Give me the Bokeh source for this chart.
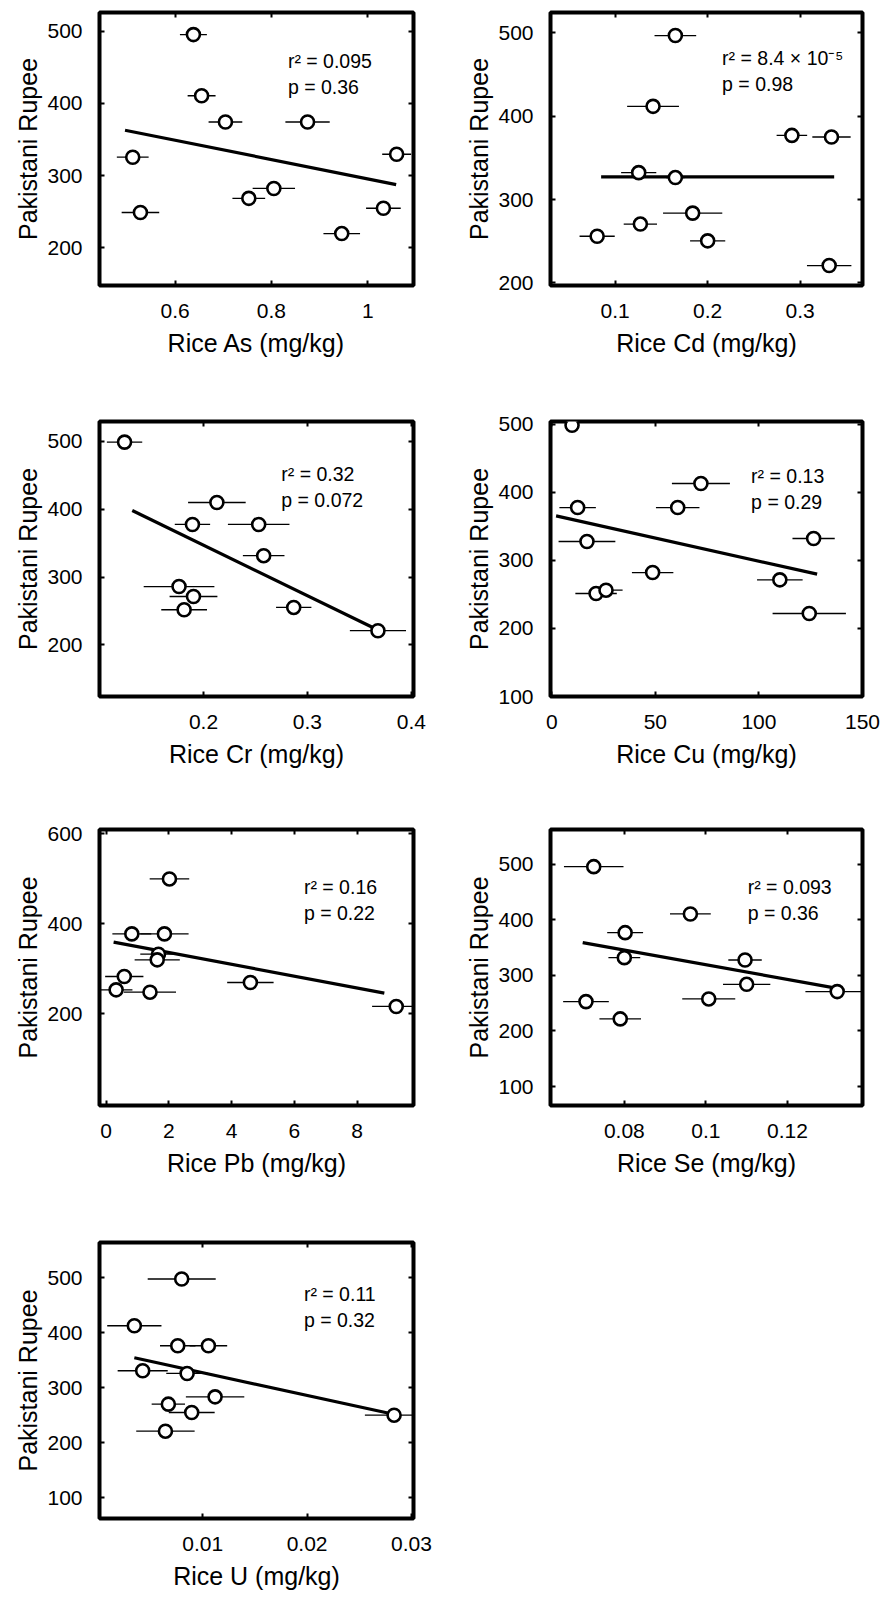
from bokeh.plotting import figure
from bokeh.layouts import column, row
from bokeh.models import (LinearAxis, FixedTicker, CustomJSTickFormatter, Range1d,
                          Label, ColumnDataSource, Spacer)
from bokeh.embed import file_html
from bokeh.resources import INLINE

FONT = "Liberation Sans"

# ---------------- data ----------------
y_label = "Pakistani Rupee"

as_x = [0.638, 0.655, 0.7045, 0.875, 0.512, 1.060, 0.528, 0.753, 0.805, 1.0325, 0.946]
as_y = [495.4, 410.6, 374.2, 374.2, 325.4, 329.5, 248.8, 268.4, 282.1, 254.7, 219.6]
as_xerr = [0.028, 0.029, 0.035, 0.046, 0.033, 0.030, 0.039, 0.034, 0.044, 0.036, 0.038]
as_fit_x = [0.496, 1.059]
as_fit_y = [362.8, 287.5]

cd_x = [0.1651, 0.141, 0.291, 0.3338, 0.1255, 0.1651, 0.1838, 0.1273, 0.0806, 0.200, 0.3313]
cd_y = [496.4, 411.6, 376.8, 374.9, 332.2, 326.3, 283.7, 270.6, 256.0, 250.5, 220.9]
cd_xerr = [0.0225, 0.028, 0.0165, 0.0207, 0.019, 0.010, 0.032, 0.018, 0.019, 0.019, 0.024]
cd_fit_x = [0.0849, 0.3367]
cd_fit_y = [327.0, 327.0]

cr_x = [0.1241, 0.2129, 0.1894, 0.2531, 0.2579, 0.1765, 0.1904, 0.1814, 0.2868, 0.3678]
cr_y = [499.0, 410.0, 377.6, 377.6, 331.6, 286.1, 271.4, 251.9, 255.3, 221.0]
cr_xerr = [0.017, 0.0277, 0.017, 0.0296, 0.020, 0.034, 0.023, 0.022, 0.017, 0.027]
cr_fit_x = [0.1315, 0.3678]
cr_fit_y = [398.2, 222.0]

cu_x = [9.8, 72.0, 60.8, 12.5, 17.0, 126.4, 48.7, 21.4, 26.2, 110.1, 124.3]
cu_y = [498.5, 412.9, 377.6, 377.6, 327.7, 332.1, 282.1, 251.3, 256.2, 271.4, 221.9]
cu_xerr = [3.0, 14.0, 10.5, 8.8, 13.7, 10.2, 10.0, 10.0, 8.0, 11.0, 17.7]
cu_fit_x = [2.1, 128.1]
cu_fit_y = [365.4, 279.7]

pb_x = [2.02, 0.82, 1.86, 1.67, 1.63, 0.58, 0.32, 1.40, 4.60, 9.25]
pb_y = [500.0, 377.8, 377.8, 332.6, 320.0, 283.0, 253.3, 248.1, 269.6, 216.3]
pb_xerr = [0.63, 0.62, 0.77, 0.58, 0.72, 0.61, 0.52, 0.83, 0.74, 0.77]
pb_fit_x = [0.24, 8.87]
pb_fit_y = [359.3, 246.0]

se_x = [0.0725, 0.0962, 0.0802, 0.0800, 0.1096, 0.1100, 0.1322, 0.1007, 0.0706, 0.0790]
se_y = [495.2, 410.2, 376.6, 331.7, 327.5, 283.8, 270.7, 257.5, 252.7, 221.6]
se_xerr = [0.0073, 0.0050, 0.0044, 0.0039, 0.0041, 0.0058, 0.0078, 0.0065, 0.0056, 0.0051]
se_fit_x = [0.0698, 0.1322]
se_fit_y = [358.7, 276.6]

u_x = [0.00798, 0.00344, 0.0076, 0.01054, 0.00424, 0.0085, 0.01118, 0.0067, 0.00894, 0.00642, 0.02834]
u_y = [497.6, 412.6, 376.2, 376.2, 330.7, 325.8, 283.3, 270.0, 254.8, 220.8, 249.9]
u_xerr = [0.00326, 0.0026, 0.0017, 0.0018, 0.0024, 0.0020, 0.0028, 0.0016, 0.0022, 0.0028, 0.0028]
u_fit_x = [0.00344, 0.0284]
u_fit_y = [354.3, 251.1]

# tick values and tick labels
as_xticks = [0.6, 0.8, 1.0];            as_xlabels = ["0.6", "0.8", "1"]
cd_xticks = [0.1, 0.2, 0.3];            cd_xlabels = ["0.1", "0.2", "0.3"]
cr_xticks = [0.2, 0.3, 0.4];            cr_xlabels = ["0.2", "0.3", "0.4"]
cu_xticks = [0, 50, 100, 150];          cu_xlabels = ["0", "50", "100", "150"]
pb_xticks = [0, 2, 4, 6, 8];            pb_xlabels = ["0", "2", "4", "6", "8"]
se_xticks = [0.08, 0.1, 0.12];          se_xlabels = ["0.08", "0.1", "0.12"]
u_xticks = [0.01, 0.02, 0.03];          u_xlabels = ["0.01", "0.02", "0.03"]
yticks_a = [200, 300, 400, 500]
yticks_b = [100, 200, 300, 400, 500]
yticks_pb = [200, 400, 600]

stats_r2 = ["r\u00b2 = 0.095", "r\u00b2 = 8.4 \u00d7 10\u207b\u2075", "r\u00b2 = 0.32", "r\u00b2 = 0.13",
            "r\u00b2 = 0.16", "r\u00b2 = 0.093", "r\u00b2 = 0.11"]
stats_p = ["p = 0.36", "p = 0.98", "p = 0.072", "p = 0.29", "p = 0.22", "p = 0.36", "p = 0.32"]

x_labels = ["Rice As (mg/kg)", "Rice Cd (mg/kg)", "Rice Cr (mg/kg)", "Rice Cu (mg/kg)",
            "Rice Pb (mg/kg)", "Rice Se (mg/kg)", "Rice U (mg/kg)"]

# ---------------- layout / style ----------------
panels = [
    dict(d=(as_x, as_y, as_xerr, as_fit_x, as_fit_y), xt=(as_xticks, as_xlabels), yt=yticks_a,
         xr=(0.443, 1.095), yr=(147.6, 526), col=0, h=413, t=8, fh=277, ann=(0.60, 0.178)),
    dict(d=(cd_x, cd_y, cd_xerr, cd_fit_x, cd_fit_y), xt=(cd_xticks, cd_xlabels), yt=yticks_a,
         xr=(0.0302, 0.3673), yr=(197, 524), col=1, h=413, t=12, fh=275, ann=(0.55, 0.165)),
    dict(d=(cr_x, cr_y, cr_xerr, cr_fit_x, cr_fit_y), xt=(cr_xticks, cr_xlabels), yt=yticks_a,
         xr=(0.1, 0.402), yr=(124, 529.4), col=0, h=409, t=7, fh=276, ann=(0.579, 0.191)),
    dict(d=(cu_x, cu_y, cu_xerr, cu_fit_x, cu_fit_y), xt=(cu_xticks, cu_xlabels), yt=yticks_b,
         xr=(-0.6, 150), yr=(100, 504), col=1, h=409, t=8, fh=275, ann=(0.643, 0.197)),
    dict(d=(pb_x, pb_y, pb_xerr, pb_fit_x, pb_fit_y), xt=(pb_xticks, pb_xlabels), yt=yticks_pb,
         xr=(-0.21, 9.8), yr=(-4, 610), col=0, h=412, t=7, fh=276, ann=(0.651, 0.208)),
    dict(d=(se_x, se_y, se_xerr, se_fit_x, se_fit_y), xt=(se_xticks, se_xlabels), yt=yticks_b,
         xr=(0.0619, 0.1384), yr=(66, 562), col=1, h=412, t=7, fh=276, ann=(0.632, 0.208)),
    dict(d=(u_x, u_y, u_xerr, u_fit_x, u_fit_y), xt=(u_xticks, u_xlabels), yt=yticks_b,
         xr=(0.0001, 0.0302), yr=(62, 564), col=0, h=364, t=8, fh=276, ann=(0.651, 0.185)),
]

COLS = {0: dict(l=99, fw=314), 1: dict(l=106, fw=312)}
W = 444
TICK_FS = "21px"
LABEL_FS = "25px"
ANN_FS = "19.5px"


def style_axis(ax, show_labels):
    ax.axis_line_color = None
    ax.major_tick_in = 5
    ax.major_tick_out = 0
    ax.major_tick_line_width = 2
    ax.major_tick_line_color = "black"
    ax.minor_tick_line_color = None
    ax.major_label_text_font = FONT
    ax.major_label_text_color = "black"
    ax.axis_label_text_font = FONT
    ax.axis_label_text_font_style = "normal"
    ax.axis_label_text_color = "black"
    ax.axis_label_text_font_size = LABEL_FS
    if show_labels:
        ax.major_label_text_font_size = TICK_FS
    else:
        ax.major_label_text_font_size = "1px"
        ax.major_label_standoff = 0
        ax.formatter = CustomJSTickFormatter(code="return ''")


def make_panel(i, spec):
    c = COLS[spec["col"]]
    b = spec["h"] - spec["t"] - spec["fh"]
    r = W - c["l"] - c["fw"]
    xs, ys, xe, fx, fy = spec["d"]
    xt, xl = spec["xt"]
    p = figure(width=W, height=spec["h"], x_range=Range1d(*spec["xr"]), y_range=Range1d(*spec["yr"]),
               output_backend="svg", toolbar_location=None,
               min_border_left=c["l"], min_border_right=r, min_border_top=spec["t"], min_border_bottom=b,
               x_axis_label=x_labels[i], y_axis_label=y_label)
    p.grid.visible = False
    p.background_fill_color = "white"
    p.border_fill_color = "white"
    p.outline_line_color = "black"
    p.outline_line_width = 4
    p.outline_line_alpha = 1.0

    xa = p.xaxis[0]
    ya = p.yaxis[0]
    style_axis(xa, True)
    style_axis(ya, True)
    xa.ticker = FixedTicker(ticks=xt)
    xa.major_label_overrides = {float(k): v for k, v in zip(xt, xl)}
    xa.major_label_standoff = 18
    xa.axis_label_standoff = 8
    ya.ticker = FixedTicker(ticks=spec["yt"])
    ya.major_label_standoff = 17
    ya.axis_label_standoff = 2

    top = LinearAxis(ticker=FixedTicker(ticks=xt))
    style_axis(top, False)
    p.add_layout(top, "above")
    right = LinearAxis(ticker=FixedTicker(ticks=spec["yt"]))
    style_axis(right, False)
    p.add_layout(right, "right")

    src = ColumnDataSource(dict(x=xs, y=ys, x0=[a - e for a, e in zip(xs, xe)],
                                x1=[a + e for a, e in zip(xs, xe)]))
    p.segment(x0="x0", y0="y", x1="x1", y1="y", source=src, line_color="black", line_width=1.3)
    p.line(fx, fy, line_color="black", line_width=3.2)
    p.scatter("x", "y", source=src, marker="circle", size=13, fill_color="white",
              line_color="black", line_width=2.6)

    # statistics text, placed relative to the frame
    ax_, ay_ = spec["ann"]
    x0, x1 = spec["xr"]
    y0, y1 = spec["yr"]
    lx = x0 + ax_ * (x1 - x0)
    ly1 = y1 - ay_ * (y1 - y0)
    ly2 = y1 - (ay_ + 26.5 / spec["fh"]) * (y1 - y0)
    for txt, yy in ((stats_r2[i], ly1), (stats_p[i], ly2)):
        p.add_layout(Label(x=lx, y=yy, text=txt, text_font=FONT, text_font_size=ANN_FS,
                           text_color="black", text_align="left", text_baseline="alphabetic"))
    return p


figs = [make_panel(i, s) for i, s in enumerate(panels)]

layout = column(
    row(figs[0], figs[1]),
    row(figs[2], figs[3]),
    row(figs[4], figs[5]),
    row(figs[6], Spacer(width=W, height=364)),
)

open("out.html", "w").write(file_html(layout, INLINE))
